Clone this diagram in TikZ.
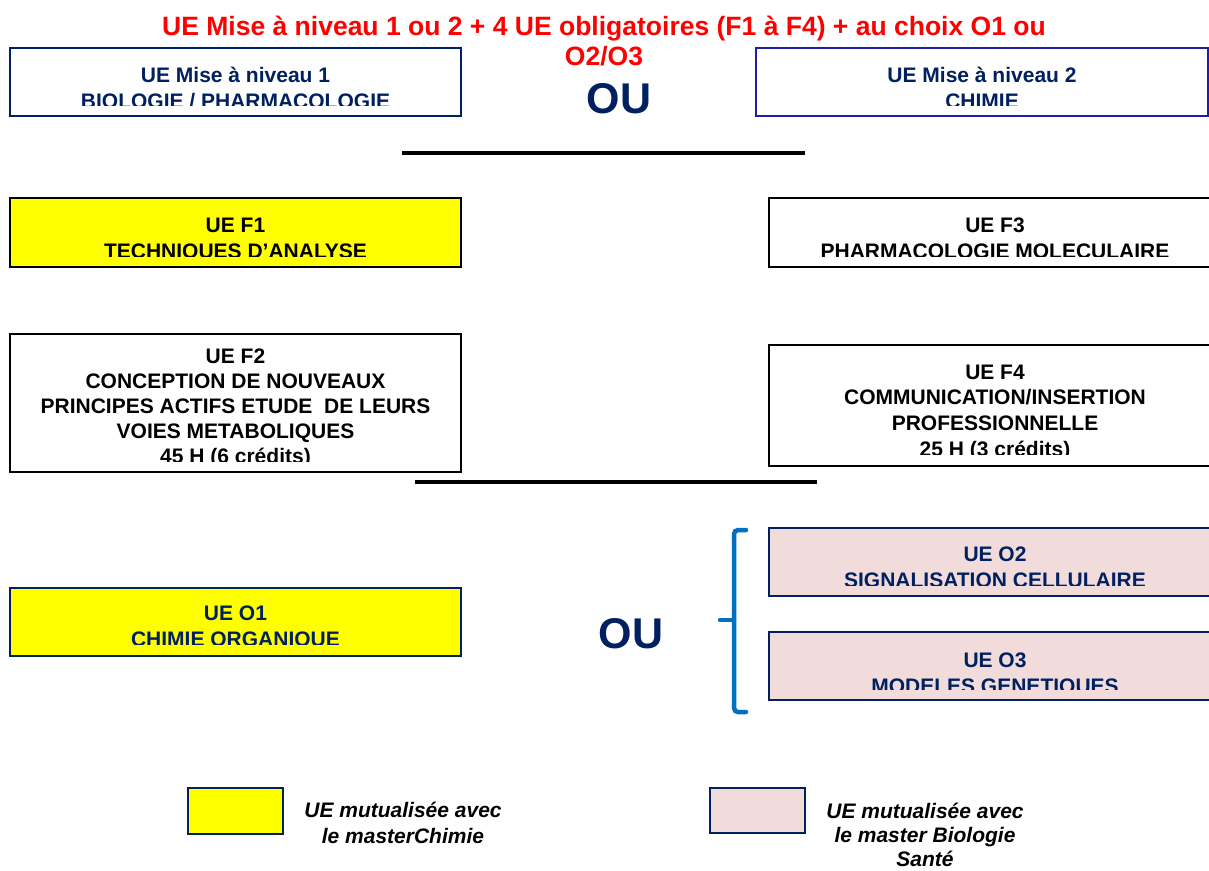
\documentclass[tikz,border=0pt]{standalone}
\usepackage{fontspec}
\setmainfont{Liberation Sans}
\definecolor{navy}{RGB}{0,32,96}
\definecolor{boxblue}{RGB}{30,30,160}
\definecolor{pinkfill}{RGB}{242,220,219}
\definecolor{bracecol}{RGB}{0,112,192}
\definecolor{titred}{RGB}{255,0,0}
\definecolor{uyellow}{RGB}{255,255,0}
\newcommand\tstrut{\rule{0pt}{20pt}}
\begin{document}
\begin{tikzpicture}[x=1pt,y=-1pt,
  box/.style={draw, line width=1.6pt, inner sep=0pt, outer sep=0pt},
  wbox/.style={box, minimum width=451pt},
  rbox/.style={box, minimum width=452pt},
  txt/.style={inner sep=0pt, anchor=north, align=center, font=\fontsize{21}{26}\selectfont\bfseries},
  ou/.style={inner sep=0pt, anchor=base, text=navy, font=\fontsize{43}{50}\selectfont\bfseries},
  sep/.style={line width=4pt, black},
  legtxt/.style={inner sep=0pt, anchor=north, align=center, font=\fontsize{21}{26}\selectfont\bfseries\itshape},
  bracestyle/.style={bracecol, line width=4.5pt},
]
\useasboundingbox (0,0) rectangle (1209,870);
\fill[white] (0,0) rectangle (1209,870);

% title
\node[inner sep=0pt, anchor=north, align=center, text=titred,
      font=\fontsize{26.5}{30}\selectfont\bfseries] (title) at (604,10)
  {\rule{0pt}{25pt}UE Mise à niveau 1 ou 2 + 4 UE obligatoires (F1 à F4) + au choix O1 ou\\O2/O3};

% Mise a niveau
\node[wbox, draw=navy, minimum height=68pt] (mn1) at (235.5,82) {};
\begin{scope}
\clip (mn1.north west) rectangle ([yshift=11pt]mn1.south east);
\node[txt, text=navy] (mn1t) at ([yshift=-14pt]mn1.north) {\tstrut UE Mise à niveau 1\\BIOLOGIE / PHARMACOLOGIE};
\end{scope}

\node[rbox, draw=boxblue, minimum height=68pt] (mn2) at (982,82) {};
\begin{scope}
\clip (mn2.north west) rectangle ([yshift=11pt]mn2.south east);
\node[txt, text=navy] (mn2t) at ([yshift=-14pt]mn2.north) {\tstrut UE Mise à niveau 2\\CHIMIE};
\end{scope}

\node[ou] (ou1) at (619,113) {OU};

\coordinate (s1a) at (402,153);
\coordinate (s1b) at (805,153);
\draw[sep] (s1a) -- (s1b);

% F1 / F3
\node[wbox, fill=uyellow, draw=black, line width=2pt, minimum height=69pt] (f1) at (235.5,232.5) {};
\begin{scope}
\clip (f1.north west) rectangle ([yshift=11pt]f1.south east);
\node[txt] (f1t) at ([yshift=-14pt]f1.north) {\tstrut UE F1\\TECHNIQUES D’ANALYSE};
\end{scope}

\node[rbox, draw=black, minimum height=69pt] (f3) at (995,232.5) {};
\begin{scope}
\clip (f3.north west) rectangle ([yshift=11pt]f3.south east);
\node[txt] (f3t) at ([yshift=-14pt]f3.north) {\tstrut UE F3\\PHARMACOLOGIE MOLECULAIRE};
\end{scope}

% F2 / F4
\node[wbox, draw=black, minimum height=138pt] (f2) at (235.5,403) {};
\begin{scope}
\clip (f2.north west) rectangle ([yshift=11pt]f2.south east);
\node[txt, font=\fontsize{21}{25}\selectfont\bfseries] (f2t) at ([yshift=-9pt]f2.north)
  {\tstrut UE F2\\CONCEPTION DE NOUVEAUX\\PRINCIPES ACTIFS ETUDE \ DE LEURS\\VOIES METABOLIQUES\\45 H (6 crédits)};
\end{scope}

\node[rbox, draw=black, minimum height=121pt] (f4) at (995,405.5) {};
\begin{scope}
\clip (f4.north west) rectangle ([yshift=12pt]f4.south east);
\node[txt, font=\fontsize{21}{25.7}\selectfont\bfseries] (f4t) at ([yshift=-14pt]f4.north)
  {\tstrut UE F4\\COMMUNICATION/INSERTION\\PROFESSIONNELLE\\25 H (3 crédits)};
\end{scope}

\coordinate (s2a) at (415,482);
\coordinate (s2b) at (817,482);
\draw[sep] (s2a) -- (s2b);

% options
\node[wbox, fill=uyellow, draw=navy, minimum height=68pt] (o1) at (235.5,622) {};
\begin{scope}
\clip (o1.north west) rectangle ([yshift=12pt]o1.south east);
\node[txt, text=navy] (o1t) at ([yshift=-12pt]o1.north) {\tstrut UE O1\\CHIMIE ORGANIQUE};
\end{scope}

\node[ou] (ou2) at (631,648) {OU};

\node[rbox, fill=pinkfill, draw=navy, minimum height=68pt] (o2) at (995,562) {};
\begin{scope}
\clip (o2.north west) rectangle ([yshift=11pt]o2.south east);
\node[txt, text=navy] (o2t) at ([yshift=-13pt]o2.north) {\tstrut UE O2\\SIGNALISATION CELLULAIRE};
\end{scope}

\node[rbox, fill=pinkfill, draw=navy, minimum height=68pt] (o3) at (995,666) {};
\begin{scope}
\clip (o3.north west) rectangle ([yshift=11pt]o3.south east);
\node[txt, text=navy] (o3t) at ([yshift=-15pt]o3.north) {\tstrut UE O3\\MODELES GENETIQUES};
\end{scope}

% brace
\coordinate (bt) at (746,530);
\coordinate (bb) at (746,712);
\coordinate (btip) at (720,620);
\coordinate (bmid) at (734,620);
\draw[bracestyle, rounded corners=4pt, line cap=round] (bt) -- (734,530) -- (734,712) -- (bb);
\draw[bracestyle, line cap=round] (btip) -- (bmid);

% legend
\node[box, fill=uyellow, draw=navy, line width=1.4pt, minimum width=95pt, minimum height=46pt] (leg1) at (235.5,811) {};
\node[legtxt] (leg1t) at (403,797) {\tstrut UE mutualisée avec\\le masterChimie};

\node[box, fill=pinkfill, draw=navy, line width=1.4pt, minimum width=95pt, minimum height=45pt] (leg2) at (757.5,810.5) {};
\node[legtxt, font=\fontsize{21}{24}\selectfont\bfseries\itshape] (leg2t) at (925,798) {\tstrut UE mutualisée avec\\le master Biologie\\Santé};
\end{tikzpicture}
\end{document}
